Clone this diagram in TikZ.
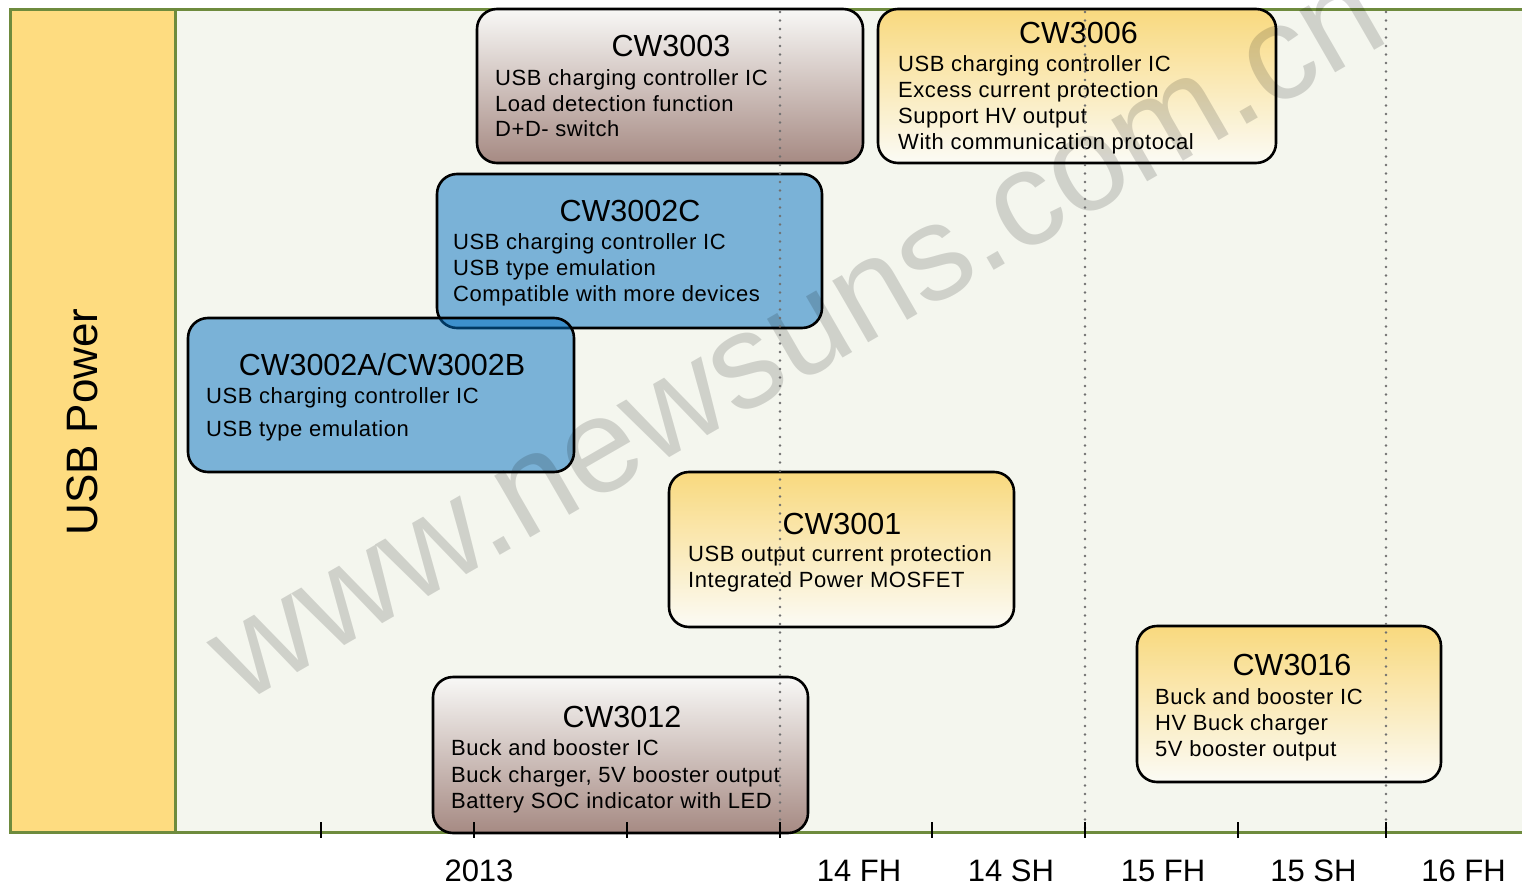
\documentclass[tikz,border=0pt]{standalone}
\usepackage{fontspec}
\setmainfont{Liberation Sans}
\newfontfamily\bodyfont[LetterSpace=2.5]{Liberation Sans}
\definecolor{frameg}{HTML}{6E8B3D}
\definecolor{bgcol}{HTML}{F4F6EE}
\definecolor{usbyellow}{HTML}{FEDC80}
\definecolor{brtop}{HTML}{F8F8F6}
\definecolor{brbot}{HTML}{A68A83}
\definecolor{yltop}{HTML}{F9D97E}
\definecolor{ylbot}{HTML}{FBFBF5}
\definecolor{bluefill}{HTML}{0270C2}
\definecolor{dotgray}{HTML}{707070}
\begin{document}
\begin{tikzpicture}[x=1pt,y=-1pt,
  frame/.style={draw=frameg, line width=3pt},
  box/.style={draw=black, line width=2.6pt, rounded corners=20pt, inner sep=0pt, outer sep=0pt},
  brownbox/.style={box, top color=brtop, bottom color=brbot},
  yellowbox/.style={box, top color=yltop, bottom color=ylbot},
  bluebox/.style={box, fill=bluefill, fill opacity=0.5},
  ttl/.style={anchor=base, inner sep=0pt, font=\fontsize{30.5}{34}\selectfont},
  body/.style={anchor=base west, inner sep=0pt, font=\bodyfont\fontsize{22}{26}\selectfont},
  axlabel/.style={anchor=base, inner sep=0pt, font=\fontsize{31}{34}\selectfont},
  tick/.style={draw=black, line width=2.5pt},
  grid/.style={draw=dotgray, line width=2.6pt, line cap=round, dash pattern=on 0pt off 8.5pt},
  wmark/.style={rotate=30, anchor=base, inner sep=0pt, text=black, text opacity=0.15, font=\fontsize{135}{150}\selectfont}
]
\useasboundingbox (0,0) rectangle (1522,885);
\fill[white] (0,0) rectangle (1522,885);
\fill[bgcol] (175,10) rectangle (1522,832);
\fill[usbyellow] (10,10) rectangle (175,832);
\draw[frame] (1522,10) -- (10,10) -- (10,832) -- (1522,832);
\draw[frame] (175,10) -- (175,832);

\node[rotate=90, inner sep=0pt, font=\fontsize{44}{48}\selectfont] (usb) at (82,422) {USB Power};

% boxes
\node[brownbox, minimum width=386pt, minimum height=154pt] (b3003) at (670,86) {};
\node[yellowbox, minimum width=398pt, minimum height=154pt] (b3006) at (1077,86) {};
\node[bluebox, minimum width=385pt, minimum height=154pt] (b3002c) at (629.5,251) {};
\node[bluebox, minimum width=386pt, minimum height=154pt] (b3002ab) at (381,395) {};
\node[yellowbox, minimum width=345pt, minimum height=155pt] (b3001) at (841.5,549.5) {};
\node[brownbox, minimum width=375pt, minimum height=156pt] (b3012) at (620.5,755) {};
\node[yellowbox, minimum width=304pt, minimum height=156pt] (b3016) at (1289,704) {};

% CW3003
\node[ttl] (t3003) at (671,57) {CW3003};
\node[body] (l3003a) at (495,86) {USB charging controller IC};
\node[body] (l3003b) at (495,112) {Load detection function};
\node[body] (l3003c) at (495,137) {D+D- switch};
% CW3006
\node[ttl] (t3006) at (1078.5,44) {CW3006};
\node[body] (l3006a) at (898,72) {USB charging controller IC};
\node[body] (l3006b) at (898,98) {Excess current protection};
\node[body] (l3006c) at (898,124) {Support HV output};
\node[body] (l3006d) at (898,150) {With communication protocal};
% CW3002C
\node[ttl] (t3002c) at (630,222) {CW3002C};
\node[body] (l3002ca) at (453,250) {USB charging controller IC};
\node[body] (l3002cb) at (453,275.5) {USB type emulation};
\node[body] (l3002cc) at (453,301) {Compatible with more devices};
% CW3002A/B
\node[ttl] (t3002ab) at (382,375) {CW3002A/CW3002B};
\node[body] (l3002aba) at (206,403) {USB charging controller IC};
\node[body] (l3002abb) at (206,436) {USB type emulation};
% CW3001
\node[ttl] (t3001) at (842,534) {CW3001};
\node[body] (l3001a) at (688,561) {USB output current protection};
\node[body] (l3001b) at (688,587) {Integrated Power MOSFET};
% CW3012
\node[ttl] (t3012) at (622,727) {CW3012};
\node[body] (l3012a) at (451,755) {Buck and booster IC};
\node[body] (l3012b) at (451,782) {Buck charger, 5V booster output};
\node[body] (l3012c) at (451,808) {Battery SOC indicator with LED};
% CW3016
\node[ttl] (t3016) at (1292,675) {CW3016};
\node[body] (l3016a) at (1155,704) {Buck and booster IC};
\node[body] (l3016b) at (1155,730) {HV Buck charger};
\node[body] (l3016c) at (1155,756) {5V booster output};

% watermark
\node[wmark] (wm) at (818,372) {www.newsuns.com.cn};

% dotted period separators
\foreach \x/\n in {780/a,1085/b,1386/c}{
  \coordinate (gt\n) at (\x,12);
  \coordinate (gb\n) at (\x,830);
  \draw[grid] (gt\n) -- (gb\n);
}
% ticks
\foreach \x/\n in {321/1,474/2,627/3,780/4,932/5,1085/6,1238/7,1386/8}{
  \coordinate (tt\n) at (\x,822);
  \coordinate (tb\n) at (\x,838);
  \draw[tick] (tt\n) -- (tb\n);
}
% axis labels
\node[axlabel] (x2013) at (479,881) {2013};
\node[axlabel] (x14fh) at (859,881) {14 FH};
\node[axlabel] (x14sh) at (1011,881) {14 SH};
\node[axlabel] (x15fh) at (1163,881) {15 FH};
\node[axlabel] (x15sh) at (1313.5,881) {15 SH};
\node[axlabel] (x16fh) at (1463.5,881) {16 FH};
\end{tikzpicture}
\end{document}
